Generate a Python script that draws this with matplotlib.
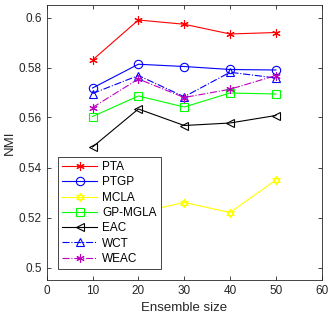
import numpy as np
import matplotlib
matplotlib.use("Agg")
import matplotlib.pyplot as plt
from matplotlib.path import Path

plt.rcParams['font.family'] = ['Liberation Sans', 'DejaVu Sans']

sizes = [10, 20, 30, 40, 50]
pta = [0.583, 0.599, 0.5973, 0.5934, 0.594]
ptgp = [0.5718, 0.5813, 0.5804, 0.5792, 0.579]
mcla = [0.515, 0.522, 0.526, 0.522, 0.535]
gp_mgla = [0.5604, 0.5686, 0.5642, 0.5698, 0.5694]
eac = [0.5482, 0.5634, 0.5568, 0.5578, 0.5608]
wct = [0.5696, 0.5768, 0.5683, 0.5781, 0.5758]
weac = [0.564, 0.5754, 0.568, 0.5713, 0.5768]

# hexagram marker (two triangles)
a = np.deg2rad([90, 210, 330, 90])
b = np.deg2rad([270, 30, 150, 270])
verts = list(zip(np.cos(a), np.sin(a))) + list(zip(np.cos(b), np.sin(b)))
codes = [Path.MOVETO, Path.LINETO, Path.LINETO, Path.CLOSEPOLY] * 2
hexagram = Path(verts, codes)

fig = plt.figure(figsize=(3.29, 3.18), dpi=100)
ax = fig.add_axes([46.7 / 329, 1 - 280 / 318, 275 / 329, 275 / 318])

kw = dict(lw=0.8, ms=6, mfc='none', mew=0.8)
ax.plot(sizes, pta, '-', color='r', marker=(6, 2, 0), label='PTA', **kw)
ax.plot(sizes, ptgp, '-', color='b', marker='o', label='PTGP', **kw)
ax.plot(sizes, mcla, '-', color='#ffff00', marker=hexagram, label='MCLA', **kw)
ax.plot(sizes, gp_mgla, '-', color='#00ff00', marker='s', label='GP-MGLA', **kw)
ax.plot(sizes, eac, '-', color='k', marker='<', label='EAC', **kw)
ax.plot(sizes, wct, '-.', color='b', marker='^', label='WCT', **kw)
ax.plot(sizes, weac, '-.', color='m', marker=(6, 2, 0), label='WEAC', **kw)

ax.set_xlim(0, 60)
ax.set_ylim(0.495, 0.605)
ax.set_xticks([0, 10, 20, 30, 40, 50, 60])
ax.set_yticks([0.5, 0.52, 0.54, 0.56, 0.58, 0.6])
ax.set_yticklabels(['0.5', '0.52', '0.54', '0.56', '0.58', '0.6'])
ax.tick_params(direction='in', top=True, right=True, labelsize=8.5,
               colors='#262626', length=3, width=0.6)
for s in ax.spines.values():
    s.set_color('#262626')
    s.set_linewidth(0.6)
ax.set_xlabel('Ensemble size', fontsize=9.5, color='#262626')
ax.set_ylabel('NMI', fontsize=9.5, color='#262626', labelpad=2)

leg = ax.legend(loc='lower left', bbox_to_anchor=(0.04, 0.04), fontsize=8.5,
                frameon=True, fancybox=False, framealpha=1, borderpad=0.35,
                labelspacing=0.28, handlelength=3.0, handletextpad=0.4,
                borderaxespad=0)
leg.get_frame().set_edgecolor('#262626')
leg.get_frame().set_linewidth(0.6)

fig.savefig('out.png', dpi=100)
